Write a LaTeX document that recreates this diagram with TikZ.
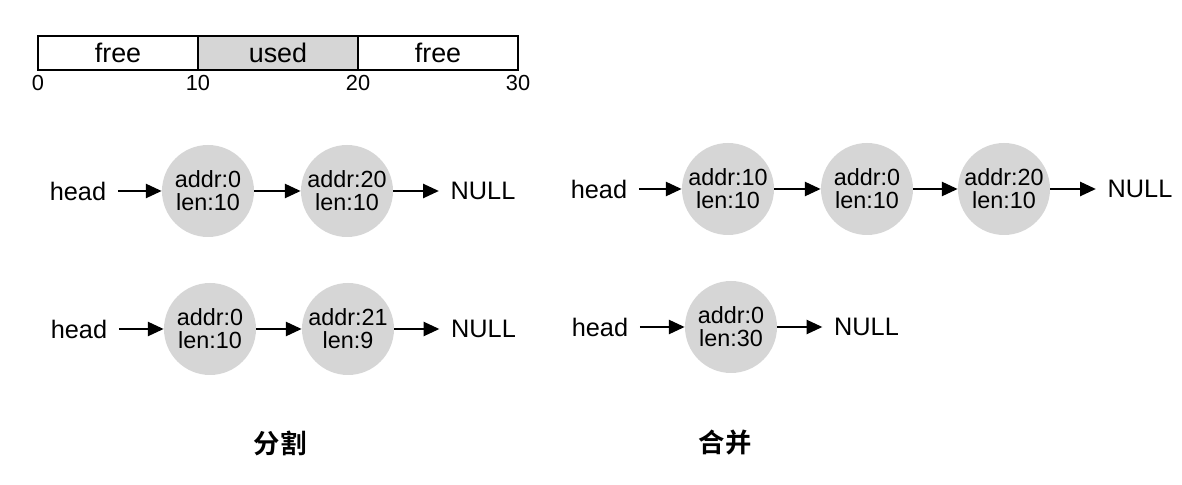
\documentclass[tikz,border=0pt]{standalone}
\usepackage{fontspec}
\setmainfont{Liberation Sans}
\newfontfamily\cjkbold[BoldFont={Noto Sans CJK SC Bold}]{Noto Sans CJK SC}
\usetikzlibrary{arrows.meta,shapes.geometric}
\definecolor{cellgray}{RGB}{214,214,214}
\tikzset{
	cell/.style={draw=black, line width=0.6pt},
	blk/.style={circle, fill=cellgray, inner sep=0pt, minimum size=1.84cm, align=center,
		font=\fontsize{13.3}{13}\selectfont},
	lbl/.style={inner xsep=6.5pt, inner ysep=2pt, font=\fontsize{14.4}{15}\selectfont},
	tick/.style={inner sep=1pt, font=\fontsize{12.4}{13}\selectfont},
	nxt/.style={-{Triangle[length=9pt,width=8pt]}, line width=1.3pt},
}

\begin{document}
\begin{tikzpicture}
			%%%%% START %%%%%
			\useasboundingbox (0, 0) rectangle (23.64, 9.70);
			
			% memory bar
			\draw[cell] (0.76, 8.30) rectangle (3.96, 8.98);
			\draw[cell, fill=cellgray] (3.96, 8.30) rectangle (7.16, 8.98);
			\draw[cell] (7.16, 8.30) rectangle (10.36, 8.98);
			\node[font=\fontsize{15.3}{16}\selectfont] (f1) at (2.36, 8.64) {free};
			\node[font=\fontsize{15.3}{16}\selectfont] (u1) at (5.56, 8.64) {used};
			\node[font=\fontsize{15.3}{16}\selectfont] (f2) at (8.76, 8.64) {free};
			\node[tick] (t0) at (0.76, 8.04) {0};
			\node[tick] (t10) at (3.96, 8.04) {10};
			\node[tick] (t20) at (7.16, 8.04) {20};
			\node[tick] (t30) at (10.36, 8.04) {30};
			
			% split, first list
			\node[lbl] (sh1) at (1.56, 5.88) {head};
			\node[blk] (sa1) at (4.16, 5.88) {addr:0\\len:10};
			\node[blk] (sb1) at (6.94, 5.88) {addr:20\\len:10};
			\node[lbl] (sn1) at (9.66, 5.88) {NULL};
			\draw[nxt] (sh1) -- (sa1);
			\draw[nxt] (sa1) -- (sb1);
			\draw[nxt] (sb1) -- (sn1);
			
			% split, second list
			\node[lbl] (sh2) at (1.58, 3.12) {head};
			\node[blk] (sa2) at (4.20, 3.12) {addr:0\\len:10};
			\node[blk] (sb2) at (6.96, 3.12) {addr:21\\len:9};
			\node[lbl] (sn2) at (9.67, 3.12) {NULL};
			\draw[nxt] (sh2) -- (sa2);
			\draw[nxt] (sa2) -- (sb2);
			\draw[nxt] (sb2) -- (sn2);
			
			% merge, first list
			\node[lbl] (mh1) at (11.98, 5.92) {head};
			\node[blk] (ma1) at (14.56, 5.92) {addr:10\\len:10};
			\node[blk] (mb1) at (17.34, 5.92) {addr:0\\len:10};
			\node[blk] (mc1) at (20.08, 5.92) {addr:20\\len:10};
			\node[lbl] (mn1) at (22.80, 5.92) {NULL};
			\draw[nxt] (mh1) -- (ma1);
			\draw[nxt] (ma1) -- (mb1);
			\draw[nxt] (mb1) -- (mc1);
			\draw[nxt] (mc1) -- (mn1);
			
			% merge, second list
			\node[lbl] (mh2) at (12.00, 3.16) {head};
			\node[blk] (ma2) at (14.62, 3.16) {addr:0\\len:30};
			\node[lbl] (mn2) at (17.33, 3.16) {NULL};
			\draw[nxt] (mh2) -- (ma2);
			\draw[nxt] (ma2) -- (mn2);
			
			% captions
			\node[font=\cjkbold\bfseries\fontsize{15}{16}\selectfont] (cap1) at (5.60, 0.84) {分割};
			\node[font=\cjkbold\bfseries\fontsize{15}{16}\selectfont] (cap2) at (14.50, 0.84) {合并};
			%%%%% END %%%%%
		\end{tikzpicture}
\end{document}
